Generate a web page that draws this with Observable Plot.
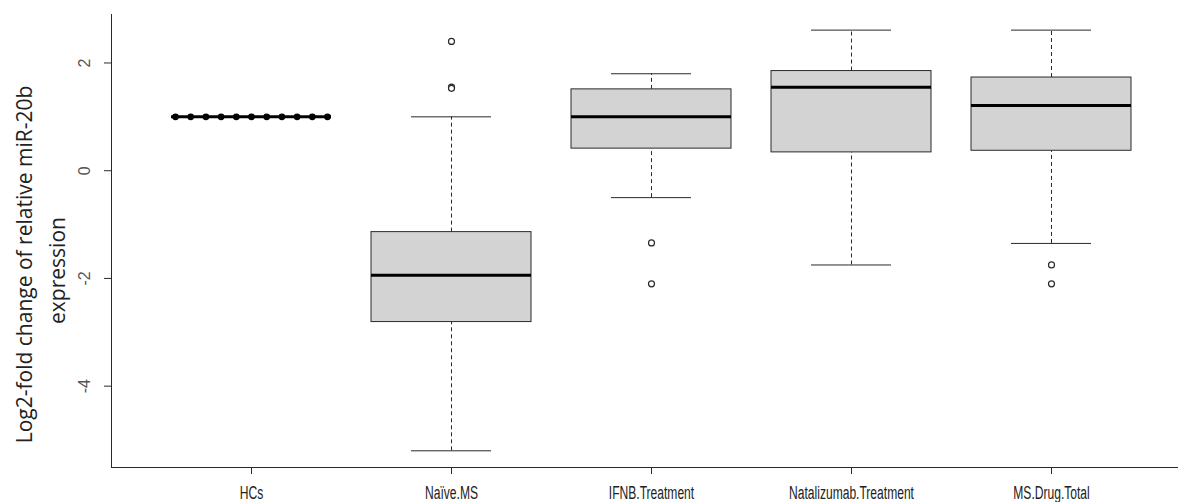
<!DOCTYPE html>
<html>
<head>
<meta charset="utf-8">
<script src="https://cdn.jsdelivr.net/npm/d3@7"></script>
<script src="https://cdn.jsdelivr.net/npm/@observablehq/plot@0.6"></script>
<style>
  html, body { margin: 0; padding: 0; background: white; }
</style>
</head>
<body>
<div id="chart"></div>
<script>
// ---- Data ----
const categories = ["HCs", "Naïve.MS", "IFNB.Treatment", "Natalizumab.Treatment", "MS.Drug.Total"];
const lowerWhisker = [1, -5.20, -0.50, -1.75, -1.35];
const q1           = [1, -2.81,  0.41,  0.34,  0.37];
const median       = [1, -1.94,  1.00,  1.55,  1.21];
const q3           = [1, -1.14,  1.51,  1.85,  1.73];
const upperWhisker = [1,  1.00,  1.80,  2.61,  2.61];

const outlierGroup = ["Naïve.MS", "Naïve.MS", "Naïve.MS", "IFNB.Treatment", "IFNB.Treatment", "MS.Drug.Total", "MS.Drug.Total"];
const outlierValue = [2.40, 1.55, 1.53, -1.34, -2.10, -1.75, -2.10];

const hcValues = [1, 1, 1, 1, 1, 1, 1, 1, 1, 1, 1];

const yTicks = [-4, -2, 0, 2];
const yTitle = ["Log2-fold change of relative miR-20b", "expression"];

// ---- Derived tables ----
const stats = categories.map((c, i) => ({
  cat: c, pos: i + 1,
  lo: lowerWhisker[i], q1: q1[i], med: median[i], q3: q3[i], hi: upperWhisker[i]
}));
const outliers = outlierGroup.map((g, i) => ({pos: categories.indexOf(g) + 1, v: outlierValue[i]}));
const hcPoints = hcValues.map((v, i) => ({pos: 1 - 0.38 + i * (0.76 / (hcValues.length - 1)), v}));

const yMin = -5.51, yMax = 2.90;
const xMin = 0.3, xMax = 5.7;
const pxPerY = 453 / (yMax - yMin);
const lineCol = "#2a2a2a";

const chart = Plot.plot({
  width: 1178,
  height: 502,
  marginLeft: 111,
  marginRight: 0,
  marginTop: 14,
  marginBottom: 35,
  style: {fontFamily: "'Liberation Sans', Arial, sans-serif", background: "white"},
  x: {type: "linear", domain: [xMin, xMax], range: [111, 1191], axis: null},
  y: {domain: [yMin, yMax], axis: null},
  marks: [
    // whiskers (dashed)
    Plot.ruleX(stats, {x: "pos", y1: "q3", y2: "hi", stroke: lineCol, strokeDasharray: "4,3", strokeWidth: 1}),
    Plot.ruleX(stats, {x: "pos", y1: "lo", y2: "q1", stroke: lineCol, strokeDasharray: "4,3", strokeWidth: 1}),
    // staples
    Plot.ruleY(stats, {y: "hi", x1: d => d.pos - 0.2, x2: d => d.pos + 0.2, stroke: lineCol, strokeWidth: 1}),
    Plot.ruleY(stats, {y: "lo", x1: d => d.pos - 0.2, x2: d => d.pos + 0.2, stroke: lineCol, strokeWidth: 1}),
    // boxes
    Plot.rect(stats, {x1: d => d.pos - 0.4, x2: d => d.pos + 0.4, y1: "q1", y2: "q3", fill: "#d3d3d3", stroke: lineCol, strokeWidth: 1}),
    // medians
    Plot.ruleY(stats, {y: "med", x1: d => d.pos - 0.4, x2: d => d.pos + 0.4, stroke: "black", strokeWidth: 3}),
    // HCs points
    Plot.dot(hcPoints, {x: "pos", y: "v", r: 3.4, fill: "black", stroke: "none"}),
    // outliers
    Plot.dot(outliers, {x: "pos", y: "v", r: 3, fill: "white", stroke: lineCol, strokeWidth: 1.2}),
    // axis lines (L-shaped frame)
    Plot.ruleX([xMin], {y1: yMin, y2: yMax, stroke: lineCol, strokeWidth: 1}),
    Plot.ruleY([yMin], {x1: xMin, x2: xMax, stroke: lineCol, strokeWidth: 1}),
    // y ticks
    Plot.ruleY(yTicks, {y: d => d, x1: xMin - 7 / 200, x2: xMin, stroke: lineCol, strokeWidth: 1}),
    Plot.text(yTicks, {x: xMin, y: d => d, text: d => String(d), rotate: -90, dx: -27,
      fontSize: 16, fill: "#555", textAnchor: "middle", lineAnchor: "middle"}),
    // x ticks
    Plot.ruleX(stats, {x: "pos", y1: yMin, y2: yMin - 7 / pxPerY, stroke: lineCol, strokeWidth: 1}),
    Plot.text(stats, {x: "pos", y: yMin, text: "cat", dy: 26, fontSize: 18,
      fill: "#222", textAnchor: "middle", lineAnchor: "middle"}),
    // y title (two lines)
    Plot.text([yTitle[0]], {frameAnchor: "left", text: d => d, rotate: -90, dx: -86, dy: 23.5,
      fontSize: 21, fontFamily: "'Open Sans', sans-serif", fill: "#222", textAnchor: "middle", lineAnchor: "middle"}),
    Plot.text([yTitle[1]], {frameAnchor: "left", text: d => d, rotate: -90, dx: -53, dy: 29.5,
      fontSize: 21, fontFamily: "'Open Sans', sans-serif", fill: "#222", textAnchor: "middle", lineAnchor: "middle"})
  ]
});
document.getElementById("chart").appendChild(chart);

// Condense the category labels horizontally, as in the reference (R device aspect)
chart.querySelectorAll("text").forEach(t => {
  if (categories.includes(t.textContent)) {
    const w = t.getComputedTextLength();
    t.setAttribute("textLength", (w * 0.67).toFixed(1));
    t.setAttribute("lengthAdjust", "spacingAndGlyphs");
  }
});
</script>
</body>
</html>
